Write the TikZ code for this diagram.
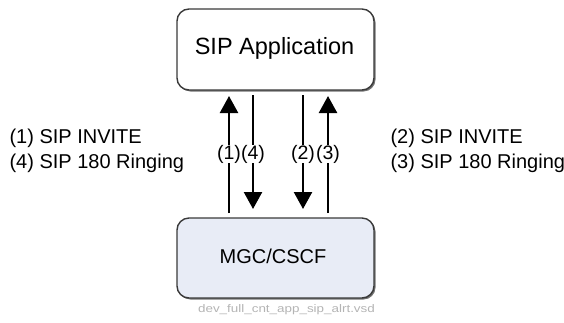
\documentclass[tikz,border=0pt]{standalone}
\usepackage{fontspec}
\setmainfont{Liberation Sans}
\usetikzlibrary{arrows.meta,calc}
\definecolor{boxline}{HTML}{3A3A3A}
\definecolor{mgcfill}{HTML}{E8ECF6}
\definecolor{notegray}{HTML}{B4B4B4}
\begin{document}
\begin{tikzpicture}[x=1pt,y=-1pt,
  entity/.style={draw=boxline,line width=1.4pt,rounded corners=12pt,
    minimum width=197pt,minimum height=81pt,inner sep=0pt},
  shade/.style={fill=black!55,rounded corners=12pt},
  msg/.style={line width=2.4pt,-{Triangle[width=18pt,length=17pt]}},
  tag/.style={fill=white,inner sep=0.3pt,font=\fontsize{19.5}{21}\selectfont},
  note/.style={anchor=west,align=left,font=\fontsize{20}{24.5}\selectfont}]
\useasboundingbox (0,0) rectangle (564,322);

% drop shadows
\fill[shade] (178.5,10.5) rectangle (375.5,91.5);
\fill[shade] (178.5,219.5) rectangle (375.5,299.5);

% the two entities
\node[entity,fill=white] (app) at (275.5,49.5) {};
\node[entity,fill=mgcfill,minimum height=80pt] (mgc) at (275.5,258) {};
\node[font=\fontsize{23.5}{26}\selectfont] (apptxt) at (274.5,48) {SIP Application};
\node[font=\fontsize{20}{22}\selectfont] (mgctxt) at (273,256) {MGC/CSCF};

% message end points
\coordinate (a1) at (229,96);  \coordinate (m1) at (229,213);
\coordinate (a4) at (253,95);  \coordinate (m4) at (253,209);
\coordinate (a2) at (303,95);  \coordinate (m2) at (303,209);
\coordinate (a3) at (328,96);  \coordinate (m3) at (328,213);

% messages
\draw[msg] (m1) -- (a1);
\draw[msg] (a4) -- (m4);
\draw[msg] (a2) -- (m2);
\draw[msg] (m3) -- (a3);

% message numbers
\node[tag] (t1) at (229,154) {(1)};
\node[tag] (t4) at (253,154) {(4)};
\node[tag] (t2) at (303,154) {(2)};
\node[tag] (t3) at (328,154) {(3)};

% legends
\node[note] (left) at (6,151) {(1) SIP INVITE\\(4) SIP 180 Ringing};
\node[note] (right) at (387,151) {(2) SIP INVITE\\(3) SIP 180 Ringing};

% file name
\node[text=notegray,font=\fontsize{11}{12}\selectfont] (file) at (286.5,310)
  {\scalebox{1.22}[1]{dev\_full\_cnt\_app\_sip\_alrt.vsd}};
\end{tikzpicture}
\end{document}
